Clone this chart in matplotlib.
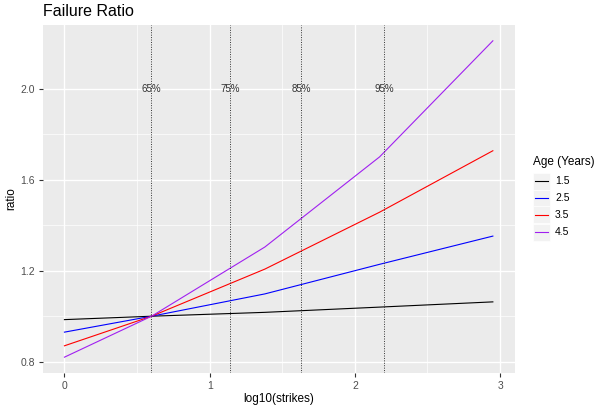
import matplotlib
matplotlib.use('Agg')
import matplotlib.pyplot as plt
from matplotlib.lines import Line2D
from matplotlib.patches import Rectangle

plt.rcParams['font.family'] = ['Liberation Sans', 'DejaVu Sans']

# data
log_strikes = [0.0, 0.6, 1.38, 2.17, 2.95]
ages = ['1.5', '2.5', '3.5', '4.5']
ratio_15 = [0.985, 1.0, 1.017, 1.040, 1.063]
ratio_25 = [0.930, 1.0, 1.098, 1.228, 1.352]
ratio_35 = [0.870, 1.0, 1.207, 1.457, 1.727]
ratio_45 = [0.820, 1.0, 1.304, 1.700, 2.210]
colors = ['black', '#0000FF', '#FF0000', '#A020F0']

pct_labels = ['65%', '75%', '85%', '95%']
pct_x = [0.599, 1.143, 1.631, 2.202]
label_y = 2.0

W, H = 600, 407
fig = plt.figure(figsize=(W / 100, H / 100), dpi=100)
ax = fig.add_axes([43 / W, (H - 373) / H, 472 / W, 348 / H])
ax.set_facecolor('#EBEBEB')
for s in ax.spines.values():
    s.set_visible(False)

ax.set_xlim(-0.1475, 3.1025)
ax.set_ylim(0.7505, 2.2795)
ax.set_xticks([0, 1, 2, 3])
ax.set_yticks([0.8, 1.2, 1.6, 2.0])
ax.set_xticks([0.5, 1.5, 2.5], minor=True)
ax.set_yticks([1.0, 1.4, 1.8], minor=True)
ax.grid(True, which='major', color='white', lw=1.0)
ax.grid(True, which='minor', color='white', lw=0.5)
ax.set_axisbelow(True)
ax.tick_params(which='major', length=3, color='#333333', labelcolor='#4D4D4D',
               labelsize=7.5, pad=3)
ax.tick_params(which='minor', length=0)
ax.set_xticklabels(['0', '1', '2', '3'])
ax.set_yticklabels(['0.8', '1.2', '1.6', '2.0'])

series = [ratio_15, ratio_25, ratio_35, ratio_45]
for vals, c in zip(series, colors):
    ax.plot(log_strikes, vals, color=c, lw=0.8)

for lab, xv in zip(pct_labels, pct_x):
    ax.axvline(xv, color='#333333', ls=(0, (1, 1.5)), lw=0.7)
    ax.text(xv, label_y, lab, ha='center', va='center', fontsize=7,
            color='#333333')

ax.set_xlabel('log10(strikes)', fontsize=8.5, labelpad=1)
ax.set_ylabel('ratio', fontsize=8.5, labelpad=2)
fig.text(43 / W, 1 - 12 / H, 'Failure Ratio', fontsize=11.5, va='center', ha='left')

# legend, drawn by hand in ggplot style
fig.text(533 / W, 1 - 162 / H, 'Age (Years)', fontsize=8.5, va='center', ha='left')
key_y = [181, 198, 215, 232]
for lab, c, ky in zip(ages, colors, key_y):
    fig.patches.append(Rectangle((533 / W, 1 - (ky + 8.5) / H), 17 / W, 17 / H,
                                 transform=fig.transFigure, facecolor='#F2F2F2',
                                 edgecolor='white', lw=0.5))
    fig.lines.append(Line2D([535 / W, 548 / W], [1 - ky / H, 1 - ky / H],
                            transform=fig.transFigure, color=c, lw=0.8))
    fig.text(555 / W, 1 - ky / H, lab, fontsize=7.5, va='center', ha='left')

fig.savefig('out.png', dpi=100)
